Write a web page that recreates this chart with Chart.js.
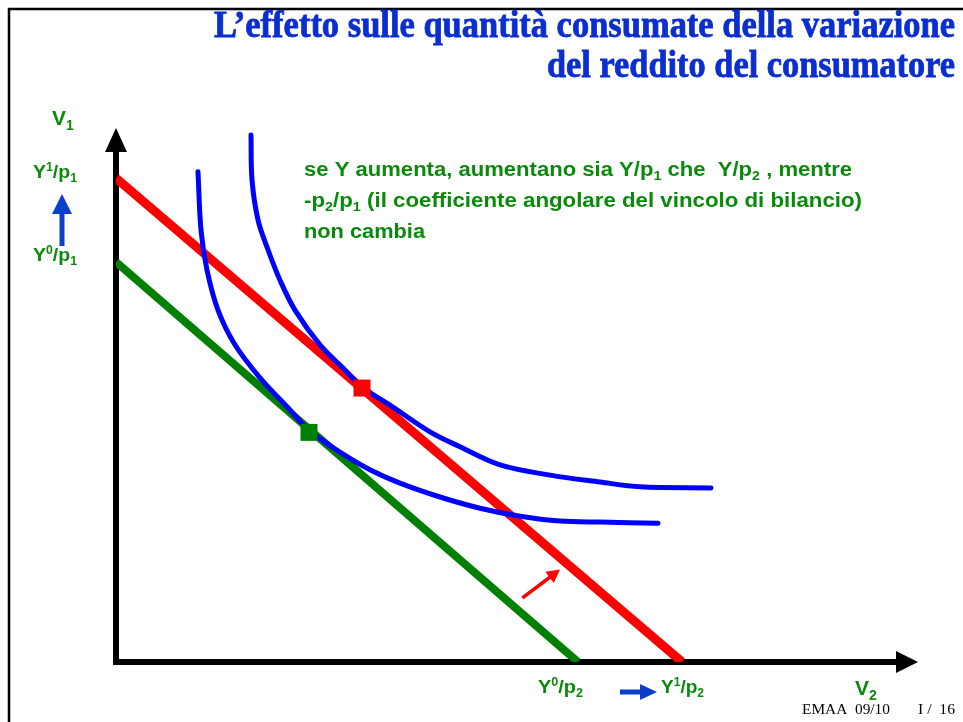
<!DOCTYPE html>
<html><head><meta charset="utf-8">
<script src="https://cdn.jsdelivr.net/npm/chart.js@4/dist/chart.umd.min.js"></script>
<style>html,body{margin:0;padding:0;background:#fff;}canvas{display:block;}</style>
</head><body>
<canvas id="c" width="963" height="722"></canvas>
<script>
// ---- data (V2 on x, V1 on y) ----
const redX = [0, 7.075];           // budget line after the income rise
const redY = [9.06, 0];
const greenX = [0, 5.775];         // initial budget line
const greenY = [7.49, 0];
const curve0X = [1.025,1.0625,1.1375,1.275,1.4875,1.8,2.175,2.4125,2.8,3.175,3.55,4.05,4.55,5.05,5.55,6.05,6.775];
const curve0Y = [9.18,8.09,7.34,6.59,5.94,5.32,4.72,4.34,3.93,3.60,3.35,3.09,2.88,2.73,2.64,2.62,2.60];
const curve1X = [1.6875,1.7,1.775,1.9,2.05,2.2375,2.55,2.8625,3.075,3.425,3.925,4.3,4.8,5.425,6.05,6.55,7.4375];
const curve1Y = [9.87,9.03,8.28,7.72,7.15,6.59,5.94,5.47,5.15,4.81,4.31,4.03,3.69,3.50,3.37,3.28,3.26];
const optGreenX = [2.4125], optGreenY = [4.30];
const optRedX = [3.075], optRedY = [5.13];
const titleLines = ["L\u2019effetto sulle quantità consumate della variazione", "del reddito del consumatore"];
const noteLines = [
  [["se Y aumenta, aumentano sia Y/p","n"],["1","sub"],[" che  Y/p","n"],["2","sub"],[" , mentre","n"]],
  [["-p","n"],["2","sub"],["/p","n"],["1","sub"],[" (il coefficiente angolare del vincolo di bilancio)","n"]],
  [["non cambia","n"]]
];

const pts = (xs, ys) => xs.map((x, i) => ({x, y: ys[i]}));

function rich(ctx, parts, x, y, size, color, font, targetW, align, strokeW) {
  const fnt = s => font.replace('{s}', s + 'px');
  let w = 0;
  parts.forEach(([t, k]) => { ctx.font = fnt(k === 'n' ? size : Math.round(size * 0.65)); w += ctx.measureText(t).width; });
  const sx = targetW ? targetW / w : 1;
  ctx.save();
  ctx.fillStyle = color; ctx.strokeStyle = color; ctx.textBaseline = 'alphabetic'; ctx.textAlign = 'left';
  let x0 = align === 'right' ? x - w * sx : x;
  ctx.translate(x0, y); ctx.scale(sx, 1);
  let cx = 0;
  parts.forEach(([t, k]) => {
    const s = k === 'n' ? size : Math.round(size * 0.65);
    ctx.font = fnt(s);
    const dy = k === 'sup' ? -size * 0.38 : (k === 'sub' ? size * 0.22 : 0);
    ctx.fillText(t, cx, dy);
    if (strokeW) { ctx.lineWidth = strokeW; ctx.strokeText(t, cx, dy); }
    cx += ctx.measureText(t).width;
  });
  ctx.restore();
}

function arrow(ctx, x1, y1, x2, y2, color, lw, headLen, headHalf) {
  const a = Math.atan2(y2 - y1, x2 - x1);
  ctx.save();
  ctx.strokeStyle = color; ctx.fillStyle = color; ctx.lineWidth = lw; ctx.lineCap = 'butt';
  const bx = x2 - headLen * Math.cos(a), by = y2 - headLen * Math.sin(a);
  ctx.beginPath(); ctx.moveTo(x1, y1); ctx.lineTo(bx + Math.cos(a) * 2, by + Math.sin(a) * 2); ctx.stroke();
  ctx.beginPath();
  ctx.moveTo(x2, y2);
  ctx.lineTo(bx + headHalf * Math.sin(a), by - headHalf * Math.cos(a));
  ctx.lineTo(bx - headHalf * Math.sin(a), by + headHalf * Math.cos(a));
  ctx.closePath(); ctx.fill();
  ctx.restore();
}

const deco = {
  id: 'deco',
  beforeDatasetsDraw(chart) {
    const ctx = chart.ctx, xs = chart.scales.x, ys = chart.scales.y;
    const ox = xs.getPixelForValue(0), oy = ys.getPixelForValue(0);
    ctx.save();
    // slide frame
    ctx.strokeStyle = '#000'; ctx.lineWidth = 2.5;
    ctx.beginPath(); ctx.moveTo(9, 722); ctx.lineTo(9, 9); ctx.lineTo(963, 9); ctx.stroke();
    // axes
    ctx.strokeStyle = '#000'; ctx.lineWidth = 6; ctx.lineCap = 'butt';
    ctx.beginPath(); ctx.moveTo(ox, oy + 3); ctx.lineTo(ox, ys.getPixelForValue(10) + 15); ctx.stroke();
    ctx.beginPath(); ctx.moveTo(ox - 3, oy); ctx.lineTo(xs.getPixelForValue(10) - 15, oy); ctx.stroke();
    ctx.restore();
    arrow(ctx, ox, oy, ox, ys.getPixelForValue(10), '#000', 6, 24, 11);
    arrow(ctx, ox, oy, xs.getPixelForValue(10) + 2, oy, '#000', 6, 22, 11);
  },
  afterDraw(chart) {
    const ctx = chart.ctx, xs = chart.scales.x, ys = chart.scales.y;
    const serifB = 'bold {s} "Liberation Serif", "Times New Roman", serif';
    const sansB = 'bold {s} Arial, "Liberation Sans", sans-serif';
    const serif = '{s} "Liberation Serif", "Times New Roman", serif';
    const blue = '#0a2ecf', green = '#0a8a0a';
    // title
    rich(ctx, [[titleLines[0], 'n']], 955, 37, 37, blue, serifB, 741, 'right', 0.8);
    rich(ctx, [[titleLines[1], 'n']], 955, 77, 37, blue, serifB, 408, 'right', 0.8);
    // note
    rich(ctx, noteLines[0], 304, 176, 20, green, sansB, 548);
    rich(ctx, noteLines[1], 304, 207, 20, green, sansB, 558);
    rich(ctx, noteLines[2], 304, 238, 20, green, sansB, 121);
    // axis labels
    rich(ctx, [["V","n"],["1","sub"]], 52, 125, 21, green, sansB);
    rich(ctx, [["V","n"],["2","sub"]], 855, 695, 21, green, sansB);
    rich(ctx, [["Y","n"],["1","sup"],["/p","n"],["1","sub"]], 33, 178, 19, green, sansB, 44);
    rich(ctx, [["Y","n"],["0","sup"],["/p","n"],["1","sub"]], 33, 261, 19, green, sansB, 44);
    rich(ctx, [["Y","n"],["0","sup"],["/p","n"],["2","sub"]], 538, 693, 19, green, sansB, 45);
    rich(ctx, [["Y","n"],["1","sup"],["/p","n"],["2","sub"]], 661, 693, 19, green, sansB, 43);
    // shift arrows
    arrow(ctx, 62, 246, 62, 194, '#0a3fcc', 5, 20, 10);
    arrow(ctx, 620, 692, 657, 692, '#0a3fcc', 5, 17, 8);
    arrow(ctx, xs.getPixelForValue(5.08), ys.getPixelForValue(1.2), xs.getPixelForValue(5.55), ys.getPixelForValue(1.73), '#ff0000', 3.5, 13, 7);
    // footer
    rich(ctx, [["EMAA  09/10","n"]], 802, 714, 15, '#000', serif, 88);
    rich(ctx, [["I /  16","n"]], 918, 714, 15, '#000', serif, 37);
  }
};

new Chart(document.getElementById('c'), {
  type: 'scatter',
  data: {
    datasets: [
      { data: pts(optRedX, optRedY), pointStyle: 'rect', pointRadius: 12, backgroundColor: '#ff0000', borderWidth: 0, order: 0 },
      { data: pts(optGreenX, optGreenY), pointStyle: 'rect', pointRadius: 12, backgroundColor: '#008000', borderWidth: 0, order: 0 },
      { data: pts(curve1X, curve1Y), showLine: true, borderColor: '#0000ff', borderWidth: 5, pointRadius: 0, tension: 0.35, borderCapStyle: 'round', order: 1 },
      { data: pts(curve0X, curve0Y), showLine: true, borderColor: '#0000ff', borderWidth: 5, pointRadius: 0, tension: 0.35, borderCapStyle: 'round', order: 1 },
      { data: pts(redX, redY), showLine: true, borderColor: '#ff0000', borderWidth: 9, pointRadius: 0, borderCapStyle: 'butt', order: 2 },
      { data: pts(greenX, greenY), showLine: true, borderColor: '#008000', borderWidth: 8, pointRadius: 0, borderCapStyle: 'butt', order: 3 }
    ]
  },
  options: {
    responsive: false, animation: false, events: [],
    layout: { padding: { left: 116, right: 47, top: 128, bottom: 60 } },
    scales: {
      x: { type: 'linear', min: 0, max: 10, display: false },
      y: { type: 'linear', min: 0, max: 10, display: false }
    },
    plugins: { legend: { display: false }, tooltip: { enabled: false } }
  },
  plugins: [deco]
});
</script>
</body></html>
